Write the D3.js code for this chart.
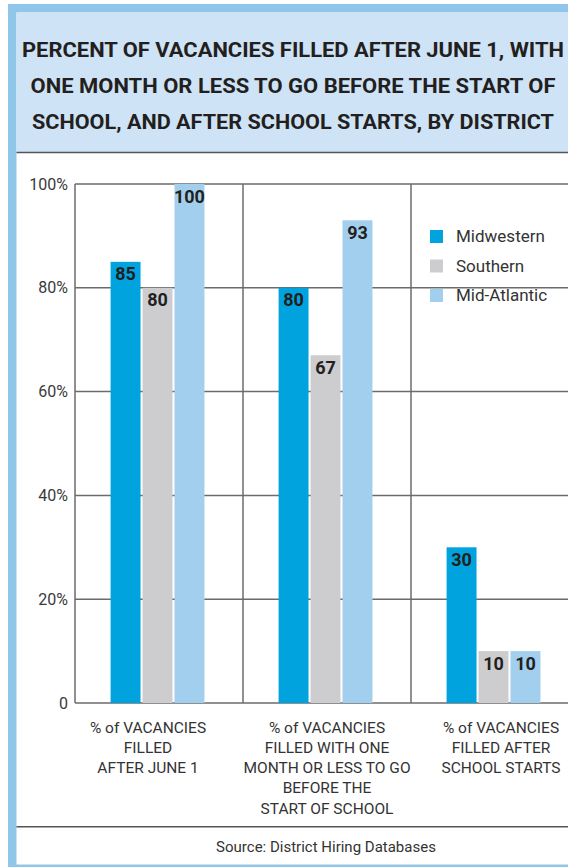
<!DOCTYPE html>
<html>
<head>
<meta charset="utf-8">
<script src="https://cdn.jsdelivr.net/npm/d3@7"></script>
<style>
  body { margin: 0; background: #fff; }
  svg { display: block; font-family: Roboto, "Liberation Sans", sans-serif; }
</style>
</head>
<body>
<div id="chart"></div>
<script>
const titleLines = [
  "PERCENT OF VACANCIES FILLED AFTER JUNE 1, WITH",
  "ONE MONTH OR LESS TO GO BEFORE THE START OF",
  "SCHOOL, AND AFTER SCHOOL STARTS, BY DISTRICT"
];
const categories = ["after-june-1", "one-month-or-less", "after-school-starts"];
const categoryLabels = [
  ["% of VACANCIES", "FILLED", "AFTER JUNE 1"],
  ["% of VACANCIES", "FILLED WITH ONE", "MONTH OR LESS TO GO", "BEFORE THE", "START OF SCHOOL"],
  ["% of VACANCIES", "FILLED AFTER", "SCHOOL STARTS"]
];
const seriesNames = ["Midwestern", "Southern", "Mid-Atlantic"];
const midwestern = [85, 80, 30];
const southern = [80, 67, 10];
const midAtlantic = [100, 93, 10];
const yTicks = [0, 20, 40, 60, 80, 100];
const source = "Source: District Hiring Databases";

const colors = ["#00a3de", "#cdcdcf", "#a3cfee"];
const W = 568, H = 867;

const series = [midwestern, southern, midAtlantic];
const rows = categories.map((c, i) => ({
  cat: c,
  values: seriesNames.map((s, j) => ({ key: s, value: series[j][i] }))
}));

const svg = d3.select("#chart").append("svg")
  .attr("width", W)
  .attr("height", H);

// frame
svg.append("rect").attr("x", 8).attr("y", 4).attr("width", W).attr("height", H - 4).attr("fill", "#8fc6ea");
svg.append("rect").attr("x", 16.5).attr("y", 12.5).attr("width", W).attr("height", 852).attr("fill", "#fff");
svg.append("rect").attr("x", 16.5).attr("y", 12.5).attr("width", W).attr("height", 140).attr("fill", "#cfe3f6");
svg.append("line").attr("x1", 16.5).attr("x2", W).attr("y1", 152.5).attr("y2", 152.5)
  .attr("stroke", "#555").attr("stroke-width", 1.5);
svg.append("line").attr("x1", 16.5).attr("x2", W).attr("y1", 826.7).attr("y2", 826.7)
  .attr("stroke", "#555").attr("stroke-width", 1.5);

// title
const titleWidths = [542, 525, 522];
svg.append("g").selectAll("text")
  .data(titleLines)
  .join("text")
  .attr("x", 293)
  .attr("y", (d, i) => 57 + i * 35.8)
  .attr("text-anchor", "middle")
  .attr("font-weight", "bold")
  .attr("font-size", 19.5)
  .attr("fill", "#231f20")
  .attr("textLength", (d, i) => titleWidths[i])
  .attr("lengthAdjust", "spacingAndGlyphs")
  .text(d => d);

// scales
const x0 = d3.scaleBand().domain(categories).range([75, 579]).paddingInner(0).paddingOuter(0);
const x1 = d3.scaleBand().domain(seriesNames).range([0, x0.bandwidth()])
  .paddingInner(0.0625).paddingOuter(1.16).align(0.48);
const y = d3.scaleLinear().domain([0, 100]).range([703, 184]);
const color = d3.scaleOrdinal().domain(seriesNames).range(colors);

// grid
const grid = svg.append("g");
grid.selectAll("line.h")
  .data(yTicks)
  .join("line")
  .attr("class", "h")
  .attr("x1", 75).attr("x2", W)
  .attr("y1", d => y(d)).attr("y2", d => y(d))
  .attr("stroke", "#6b6b6b").attr("stroke-width", 1.5);
grid.selectAll("line.v")
  .data(categories)
  .join("line")
  .attr("class", "v")
  .attr("x1", d => x0(d)).attr("x2", d => x0(d))
  .attr("y1", y(0)).attr("y2", y(100))
  .attr("stroke", "#6b6b6b").attr("stroke-width", 1.5);

// y axis labels
const yAxis = svg.append("g")
  .attr("transform", "translate(75,0)")
  .call(d3.axisLeft(y).tickValues(yTicks).tickSize(0).tickPadding(7)
    .tickFormat(d => d === 0 ? "0" : d + "%"));
yAxis.select(".domain").remove();
yAxis.selectAll("text")
  .attr("font-family", "Roboto, sans-serif")
  .attr("font-size", 16)
  .attr("fill", "#3a3a3a");

// bars
const groups = svg.append("g").selectAll("g")
  .data(rows)
  .join("g")
  .attr("transform", d => `translate(${x0(d.cat)},0)`);

groups.selectAll("rect")
  .data(d => d.values)
  .join("rect")
  .attr("x", d => x1(d.key))
  .attr("width", x1.bandwidth())
  .attr("y", d => y(d.value))
  .attr("height", d => y(0) - y(d.value))
  .attr("fill", d => color(d.key));

groups.selectAll("text")
  .data(d => d.values)
  .join("text")
  .attr("x", d => x1(d.key) + x1.bandwidth() / 2)
  .attr("y", d => y(d.value) + 18.5)
  .attr("text-anchor", "middle")
  .attr("font-weight", "bold")
  .attr("font-size", 18)
  .attr("fill", "#231f20")
  .text(d => d.value);

// category labels
const labelDx = [-11, 0, 6];
const lab = svg.append("g").selectAll("text")
  .data(categories)
  .join("text")
  .attr("text-anchor", "middle")
  .attr("font-size", 15.5)
  .attr("fill", "#333");
lab.selectAll("tspan")
  .data((d, i) => categoryLabels[i].map(t => ({ t, x: x0(d) + x0.bandwidth() / 2 + labelDx[i] })))
  .join("tspan")
  .attr("x", d => d.x)
  .attr("y", (d, i) => 732.5 + i * 20.3)
  .text(d => d.t);

// legend
const legend = svg.append("g").attr("transform", "translate(430,230)");
const li = legend.selectAll("g")
  .data(seriesNames)
  .join("g")
  .attr("transform", (d, i) => `translate(0,${i * 29.5})`);
li.append("rect").attr("width", 13).attr("height", 13).attr("fill", d => color(d));
li.append("text").attr("x", 26).attr("y", 12).attr("font-size", 17).attr("fill", "#333").text(d => d);

// source
svg.append("text")
  .attr("x", 326).attr("y", 852)
  .attr("text-anchor", "middle")
  .attr("font-size", 15)
  .attr("fill", "#333")
  .text(source);
</script>
</body>
</html>
